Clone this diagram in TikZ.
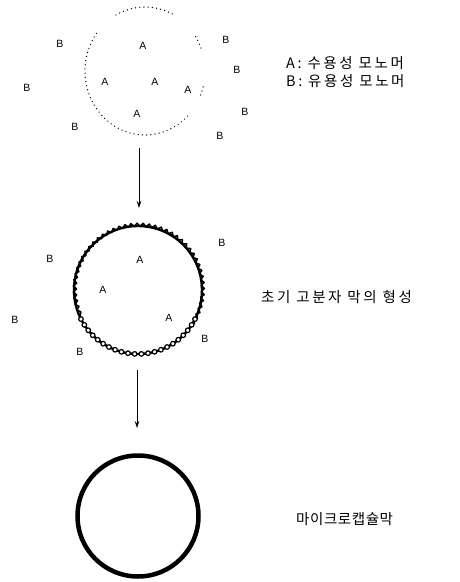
\documentclass[tikz,border=0pt]{standalone}
\usepackage{fontspec}
\setmainfont{Liberation Sans}
\newfontfamily\kr[LetterSpace=18]{Noto Sans CJK KR}
\newfontfamily\krb[LetterSpace=4]{Noto Sans CJK KR}
\usetikzlibrary{decorations.pathmorphing,arrows.meta,calc}
\tikzset{
  mono/.style={font=\fontsize{10.5}{11}\selectfont, inner sep=0pt},
  lbl/.style={font=\kr\fontsize{14.5}{18.5}\selectfont, inner sep=0pt, anchor=west, align=left},
  dotline/.style={line width=1.4pt, dash pattern=on 0.01pt off 4.2pt, line cap=round},
  arr/.style={line width=0.7pt, -{Stealth[length=7pt,width=4.5pt]}},
  ring/.style={draw, circle, fill=white, line width=1.2pt, minimum size=4.6pt, inner sep=0pt},
}
\begin{document}
\begin{tikzpicture}[x=1pt,y=-1pt]
\useasboundingbox (0,0) rectangle (460,582);
% stage 1
\coordinate (c1) at (145,71);
\draw[dotline] (c1) ++(144:60pt and 64pt) arc[start angle=144, end angle=319, x radius=60pt, y radius=64pt];
\draw[dotline] (c1) ++(63:60pt and 64pt) arc[start angle=63, end angle=119, x radius=60pt, y radius=64pt];
\draw[dotline] (c1) ++(21:60pt and 64pt) arc[start angle=21, end angle=36, x radius=60pt, y radius=64pt];
\draw[dotline] (c1) ++(-22:60pt and 64pt) arc[start angle=-22, end angle=-13, x radius=60pt, y radius=64pt];
\node[mono] (a11) at (143,46) {A};
\node[mono] (a12) at (105,82) {A};
\node[mono] (a13) at (155,82) {A};
\node[mono] (a14) at (188,90) {A};
\node[mono] (a15) at (137,114) {A};
\node[mono] (b11) at (60,44) {B};
\node[mono] (b12) at (27,88) {B};
\node[mono] (b13) at (75,127) {B};
\node[mono] (b14) at (226,40) {B};
\node[mono] (b15) at (237,70) {B};
\node[mono] (b16) at (245,112) {B};
\node[mono] (b17) at (220,136) {B};
\node[lbl] (t1) at (286,72) {A: 수용성 모노머\\B: 유용성 모노머};
% arrow 1
\coordinate (p1) at (139,148);
\coordinate (p2) at (139,208);
\draw[arr] (p1) -- (p2);
% stage 2
\coordinate (c2) at (138,290);
\draw[line width=2.4pt] (c2) circle[radius=64pt];
\draw[line width=1.5pt, line join=round, decorate, decoration={snake, segment length=6pt, amplitude=1.6pt}]
  (c2) ++(-35:64pt) arc[start angle=-35, end angle=205, radius=64pt];
\foreach \ang in {207,213,...,333} {
  \node[ring] at ($(c2)+(\ang:64pt)$) {};
}
\node[mono] (a21) at (140,260) {A};
\node[mono] (a22) at (103,290) {A};
\node[mono] (a23) at (169,318) {A};
\node[mono] (b21) at (50,259) {B};
\node[mono] (b22) at (15,320) {B};
\node[mono] (b23) at (80,352) {B};
\node[mono] (b24) at (222,243) {B};
\node[mono] (b25) at (205,339) {B};
\node[lbl] (t2) at (261,297) {초기 고분자 막의 형성};
% arrow 2
\coordinate (p3) at (137,370);
\coordinate (p4) at (137,428);
\draw[arr] (p3) -- (p4);
% stage 3
\node[circle, draw, line width=4.5pt, minimum size=121pt, inner sep=0pt] (c3) at (138,516) {};
\node[lbl, font=\krb\fontsize{14.5}{18.5}\selectfont] (t3) at (296,519) {마이크로캡슐막};
\end{tikzpicture}
\end{document}
